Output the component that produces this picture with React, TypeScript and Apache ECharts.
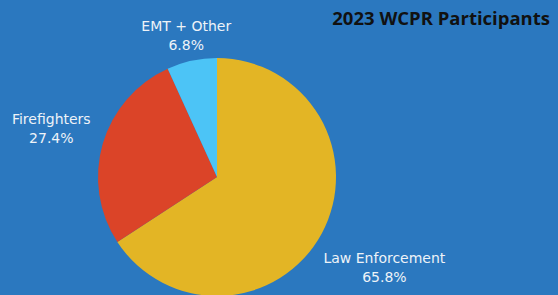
import React, { useEffect, useRef } from "react";
import * as echarts from "echarts";

const categories = ["Law Enforcement", "Firefighters", "EMT + Other"];
const values = [65.8, 27.4, 6.8];
const colors = ["#E3B525", "#DB4428", "#4CC4F6"];
const titleText = "2023 WCPR Participants";

const CX = 217;
const CY = 177;
const R = 119;
const labelDist = [1.6, 1.45, 1.22];

export default function App() {
  const ref = useRef<HTMLDivElement>(null);
  useEffect(() => {
    document.body.style.margin = "0";
    const chart = echarts.init(ref.current!, null, { renderer: "svg" });
    const total = values.reduce((a, b) => a + b, 0);
    const mids: number[] = [];
    let acc = 0;
    values.forEach((v) => {
      mids.push(((acc + v / 2) / total) * Math.PI * 2);
      acc += v;
    });
    chart.setOption({
      animation: false,
      backgroundColor: "#2B78BF",
      title: {
        text: titleText,
        right: 3,
        top: 3,
        textStyle: {
          fontFamily: "Open Sans",
          fontWeight: "bold",
          fontSize: 18.5,
          color: "#111111",
        },
      },
      series: [
        {
          type: "pie",
          center: [CX, CY],
          radius: R,
          startAngle: 90,
          clockwise: true,
          data: categories.map((c, i) => ({
            name: c,
            value: values[i],
            itemStyle: { color: colors[i] },
          })),
          label: {
            show: true,
            position: "outside",
            alignTo: "none",
            overflow: "none",
            formatter: (p: any) => `${p.name}\n${p.value.toFixed(1)}%`,
            color: "#EEF3F8",
            fontFamily: "DejaVu Sans",
            fontSize: 14,
            lineHeight: 19,
            align: "center",
          },
          labelLine: { show: false },
          labelLayout: (p: any) => {
            const i = p.dataIndex;
            const a = mids[i];
            const d = R * labelDist[i];
            return {
              x: CX + d * Math.sin(a),
              y: CY - d * Math.cos(a),
              align: "center",
              verticalAlign: "middle",
            };
          },
        },
      ],
    });
    return () => chart.dispose();
  }, []);
  return (
    <div
      ref={ref}
      style={{ position: "absolute", left: 0, top: 0, width: 558, height: 295 }}
    />
  );
}
